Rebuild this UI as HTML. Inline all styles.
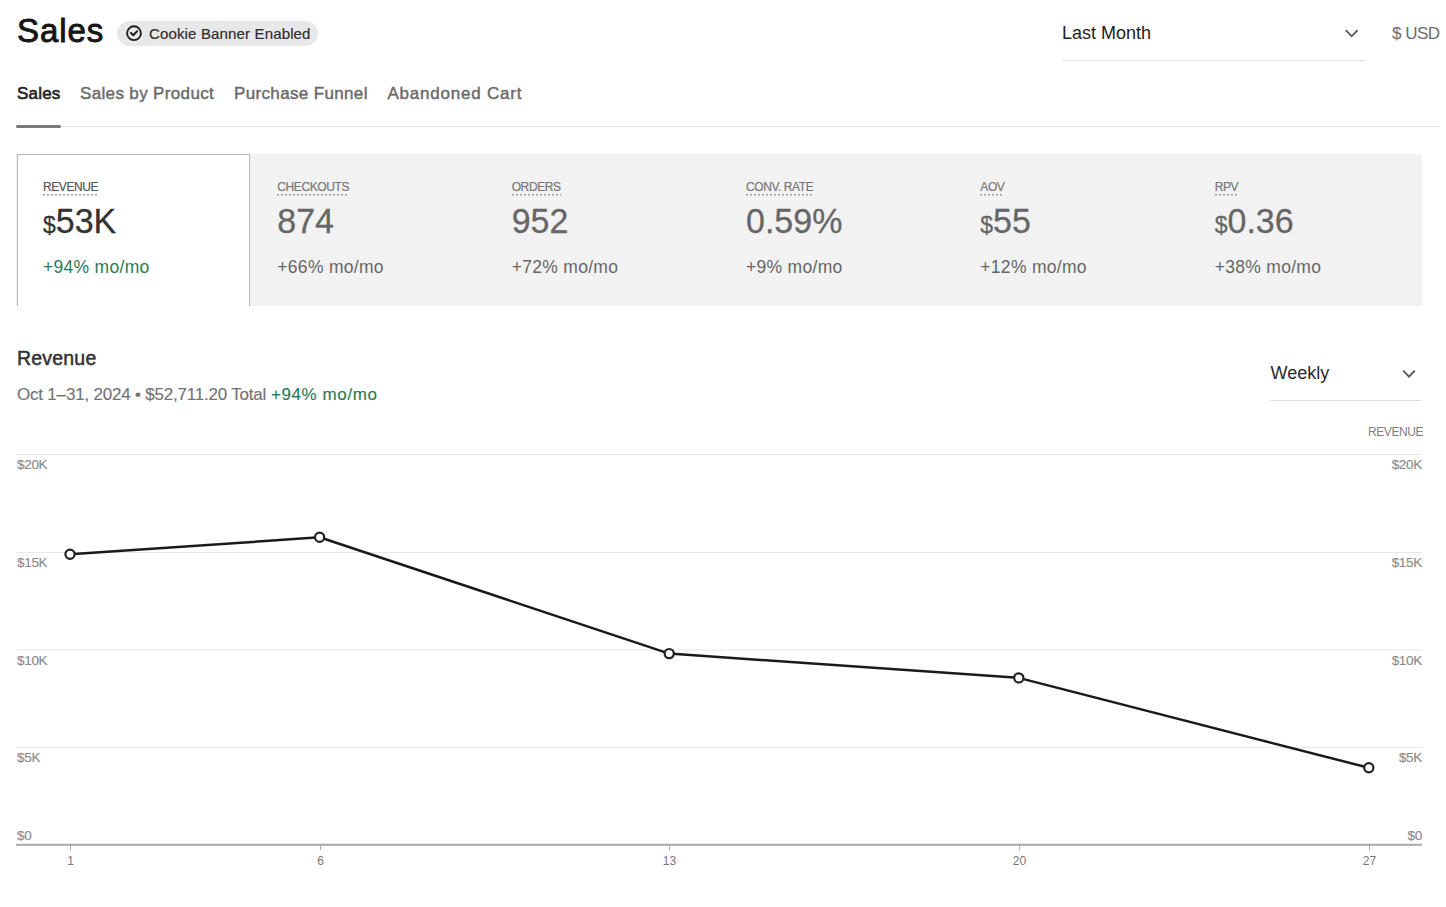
<!DOCTYPE html>
<html><head><meta charset="utf-8"><title>Sales</title>
<style>
*{box-sizing:border-box;margin:0;padding:0}
html,body{width:1446px;height:907px;overflow:hidden;background:#fff}
body{position:relative;font-family:"Liberation Sans",sans-serif;color:#222}
.t{position:absolute;white-space:nowrap}
#title{left:17px;top:14.4px;font-size:33px;line-height:33px;font-weight:400;color:#151515;-webkit-text-stroke:0.9px #151515;letter-spacing:0.9px}
#pill{position:absolute;left:117px;top:21px;width:201px;height:25px;border-radius:13px;background:#e8e8e8}
#pilltxt{left:149px;top:25.9px;font-size:15px;line-height:15px;color:#2e2e2e;letter-spacing:0.15px;-webkit-text-stroke:0.2px #2e2e2e}
#lastm{left:1062px;top:24.1px;font-size:18px;line-height:18px;color:#222}
#usd{left:1392px;top:25.2px;font-size:17px;line-height:17px;color:#6b6b6b;letter-spacing:-0.5px}
.tab{top:84.6px;font-size:17px;line-height:17px;color:#6b6b6b;letter-spacing:0.35px;-webkit-text-stroke:0.45px #6b6b6b}
.tab.on{color:#1f1f1f;letter-spacing:0.2px;-webkit-text-stroke:0.6px #1f1f1f}
#cards{position:absolute;left:16px;top:154px;width:1406px;height:152px;background:#f2f2f2}
#card1{position:absolute;left:17px;top:154px;width:233px;height:152px;background:#fff;border:1px solid #b8b8b8;border-bottom:none}
.lbl{top:180.8px;font-size:12px;line-height:12px;color:#777;letter-spacing:-0.4px}
.lbl span{display:inline-block;padding-bottom:3px;background:repeating-linear-gradient(to right,#9a9a9a 0 2px,transparent 2px 4px) left bottom/100% 1.5px no-repeat}
.lbl{-webkit-text-stroke:0.2px #777}
.val{top:203.7px;font-size:34px;line-height:34px;color:#666;transform:scaleY(1.035);transform-origin:0 28.8px;-webkit-text-stroke:0.25px #666}
.val small{font-size:23px}
.chg{top:259px;font-size:17.5px;line-height:17.5px;color:#666;letter-spacing:0.3px}
.on1 .lbl{color:#555}
#revh{left:17px;top:349.2px;font-size:19.5px;line-height:19.5px;color:#333;letter-spacing:0.2px;-webkit-text-stroke:0.5px #333}
#sub{left:17px;top:385.6px;font-size:17px;line-height:17px;color:#737373;-webkit-text-stroke:0.15px currentColor}
.grn{color:#2b7a55}
#weekly{left:1270.6px;top:364px;font-size:18px;line-height:18px;color:#2a2a2a}
#crev{left:1368px;top:425.8px;font-size:12px;line-height:12px;color:#808080;letter-spacing:-0.4px}
.ax{font-size:13.5px;line-height:13.5px;color:#8a8a8a;letter-spacing:-0.3px;-webkit-text-stroke:0.15px #8a8a8a}
.axr{text-align:right;width:80px}
.xl{font-size:12px;line-height:12px;color:#777;text-align:center;width:40px}
svg{position:absolute;left:0;top:0}
</style></head>
<body>
<div class="t" id="title">Sales</div>
<div id="pill"></div>
<div class="t" id="pilltxt">Cookie Banner Enabled</div>
<div class="t" id="lastm">Last Month</div>
<div class="t" id="usd">$ USD</div>

<div class="t tab on" style="left:17px">Sales</div>
<div class="t tab" style="left:80px">Sales by Product</div>
<div class="t tab" style="left:234px">Purchase Funnel</div>
<div class="t tab" style="left:387.5px;letter-spacing:0.78px">Abandoned Cart</div>

<div id="cards"></div>
<div id="card1"></div>

<div class="t lbl" style="left:43px;color:#555"><span style="-webkit-text-stroke:0.2px #555">REVENUE</span></div>
<div class="t val" style="left:43px;color:#333;-webkit-text-stroke:0.25px #333"><small>$</small>53K</div>
<div class="t chg grn" style="left:43px">+94% mo/mo</div>

<div class="t lbl" style="left:277.3px"><span>CHECKOUTS</span></div>
<div class="t val" style="left:277.3px">874</div>
<div class="t chg" style="left:277.3px">+66% mo/mo</div>

<div class="t lbl" style="left:511.7px"><span>ORDERS</span></div>
<div class="t val" style="left:511.7px">952</div>
<div class="t chg" style="left:511.7px">+72% mo/mo</div>

<div class="t lbl" style="left:746px"><span>CONV. RATE</span></div>
<div class="t val" style="left:746px">0.59%</div>
<div class="t chg" style="left:746px">+9% mo/mo</div>

<div class="t lbl" style="left:980.3px"><span>AOV</span></div>
<div class="t val" style="left:980.3px"><small>$</small>55</div>
<div class="t chg" style="left:980.3px">+12% mo/mo</div>

<div class="t lbl" style="left:1214.7px"><span>RPV</span></div>
<div class="t val" style="left:1214.7px"><small>$</small>0.36</div>
<div class="t chg" style="left:1214.7px">+38% mo/mo</div>

<div class="t" id="revh">Revenue</div>
<div class="t" id="sub"><span style="letter-spacing:-0.2px">Oct 1–31, 2024 • $52,711.20 Total</span> <span class="grn" style="letter-spacing:0.6px">+94% mo/mo</span></div>
<div class="t" id="weekly">Weekly</div>
<div class="t" id="crev">REVENUE</div>

<div class="t ax" style="left:17px;top:457.9px">$20K</div>
<div class="t ax" style="left:17px;top:555.9px">$15K</div>
<div class="t ax" style="left:17px;top:653.6px">$10K</div>
<div class="t ax" style="left:17px;top:751.1px">$5K</div>
<div class="t ax" style="left:17px;top:828.6px">$0</div>
<div class="t ax axr" style="left:1342px;top:457.9px">$20K</div>
<div class="t ax axr" style="left:1342px;top:555.9px">$15K</div>
<div class="t ax axr" style="left:1342px;top:653.6px">$10K</div>
<div class="t ax axr" style="left:1342px;top:751.1px">$5K</div>
<div class="t ax axr" style="left:1342px;top:828.6px">$0</div>

<div class="t xl" style="left:50.5px;top:854.5px">1</div>
<div class="t xl" style="left:300.5px;top:854.5px">6</div>
<div class="t xl" style="left:649.5px;top:854.5px">13</div>
<div class="t xl" style="left:999.5px;top:854.5px">20</div>
<div class="t xl" style="left:1349.5px;top:854.5px">27</div>

<svg width="1446" height="907" viewBox="0 0 1446 907">
  <!-- pill icon -->
  <circle cx="134" cy="33.2" r="6.9" fill="none" stroke="#1e1e1e" stroke-width="1.9"/>
  <path d="M130.9 32.9 L133.2 35.2 L137.1 31.2" fill="none" stroke="#1e1e1e" stroke-width="2" stroke-linecap="round" stroke-linejoin="round"/>
  <!-- last month chevron + underline -->
  <path d="M1345.8 30.2 L1351.7 36.3 L1357.6 30.2" fill="none" stroke="#555" stroke-width="1.8"/>
  <rect x="1062" y="60" width="303" height="1" fill="#e0e0e0"/>
  <!-- tabs -->
  <rect x="16" y="126" width="1424" height="1" fill="#e8e8e8"/>
  <rect x="16" y="125" width="45" height="3" rx="1.5" fill="#7a7a7a"/>
  <!-- weekly -->
  <path d="M1403.3 370.6 L1409 376.6 L1414.8 370.6" fill="none" stroke="#555" stroke-width="1.8"/>
  <rect x="1270" y="400" width="152" height="1" fill="#e0e0e0"/>
  <!-- grid -->
  <g fill="#e8e8e8">
    <rect x="16" y="454" width="1406" height="1"/>
    <rect x="16" y="552" width="1406" height="1"/>
    <rect x="16" y="649.5" width="1406" height="1"/>
    <rect x="16" y="747" width="1406" height="1"/>
  </g>
  <rect x="16" y="843.8" width="1406" height="2" fill="#a8a8a8"/>
  <g fill="#a8a8a8">
    <rect x="70.0" y="845" width="1" height="5"/>
    <rect x="320.0" y="845" width="1" height="5"/>
    <rect x="669.0" y="845" width="1" height="5"/>
    <rect x="1019.0" y="845" width="1" height="5"/>
    <rect x="1369.0" y="845" width="1" height="5"/>
  </g>
  <polyline points="70,554.3 319.6,537.3 669.2,653.6 1018.8,677.9 1368.8,767.8" fill="none" stroke="#1a1a1a" stroke-width="2.5" stroke-linejoin="round"/>
  <g fill="#fff" stroke="#222" stroke-width="2.2">
    <circle cx="70" cy="554.3" r="4.6"/>
    <circle cx="319.6" cy="537.3" r="4.6"/>
    <circle cx="669.2" cy="653.6" r="4.6"/>
    <circle cx="1018.8" cy="677.9" r="4.6"/>
    <circle cx="1368.8" cy="767.8" r="4.6"/>
  </g>
</svg>
</body></html>
